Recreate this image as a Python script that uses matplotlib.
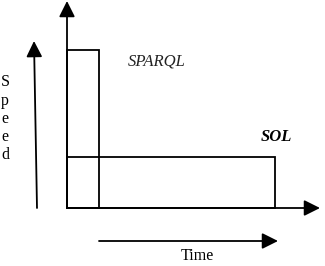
import matplotlib
matplotlib.use("Agg")
import matplotlib.pyplot as plt

# Data (arbitrary units)
methods = ["SPARQL", "SOL"]
time_values = [1.0, 6.5]
speed_values = [3.1, 1.0]
x_label = "Time"
y_label = "Speed"

W, H = 325, 266
fig = plt.figure(figsize=(W / 100, H / 100), dpi=100)
fig.patch.set_facecolor("white")

# chart axes: origin at pixel (67, 208)
ox, oy = 67, 208
px_per_x = 32.0
px_per_y = 51.0
ax_w, ax_h = 252, 206
ax = fig.add_axes([ox / W, (H - oy) / H, ax_w / W, ax_h / H])
ax.set_xlim(0, ax_w / px_per_x)
ax.set_ylim(0, ax_h / px_per_y)
ax.axis("off")
ax.bar([0, 0], speed_values, width=time_values, align="edge",
       fill=False, edgecolor="black", linewidth=1.3, clip_on=False)

# overlay in pixel coordinates for arrows and text
ov = fig.add_axes([0, 0, 1, 1], zorder=-1)
ov.set_xlim(0, W)
ov.set_ylim(H, 0)
ov.axis("off")

ap = dict(arrowstyle="-|>,head_length=0.6,head_width=0.3", color="black",
          lw=1.3, mutation_scale=16, shrinkA=0, shrinkB=0)
# main axes
ov.annotate("", xy=(ox, 1), xytext=(ox, oy), arrowprops=ap)
ov.annotate("", xy=(320, oy), xytext=(ox, oy), arrowprops=ap)
# speed arrow
ov.annotate("", xy=(34, 41), xytext=(37, 208), arrowprops=ap)
# time arrow
ov.annotate("", xy=(278, 241), xytext=(99, 241), arrowprops=ap)

serif = ["Liberation Serif", "DejaVu Serif"]
ov.text(157, 61, methods[0], fontsize=12, family=serif, style="italic",
        ha="center", va="center", color="#222222")
ov.text(276, 137, methods[1], fontsize=12, family=serif, style="italic",
        weight="bold", ha="center", va="center", color="black")
ov.text(197, 256, x_label, fontsize=11.5, family=serif,
        ha="center", va="center")
ys = [82, 101, 119, 137, 155]
for ch, yy in zip(y_label, ys):
    ov.text(5, yy, ch, fontsize=11.5, family=serif, ha="center", va="center")

fig.savefig("out.png", dpi=100)
